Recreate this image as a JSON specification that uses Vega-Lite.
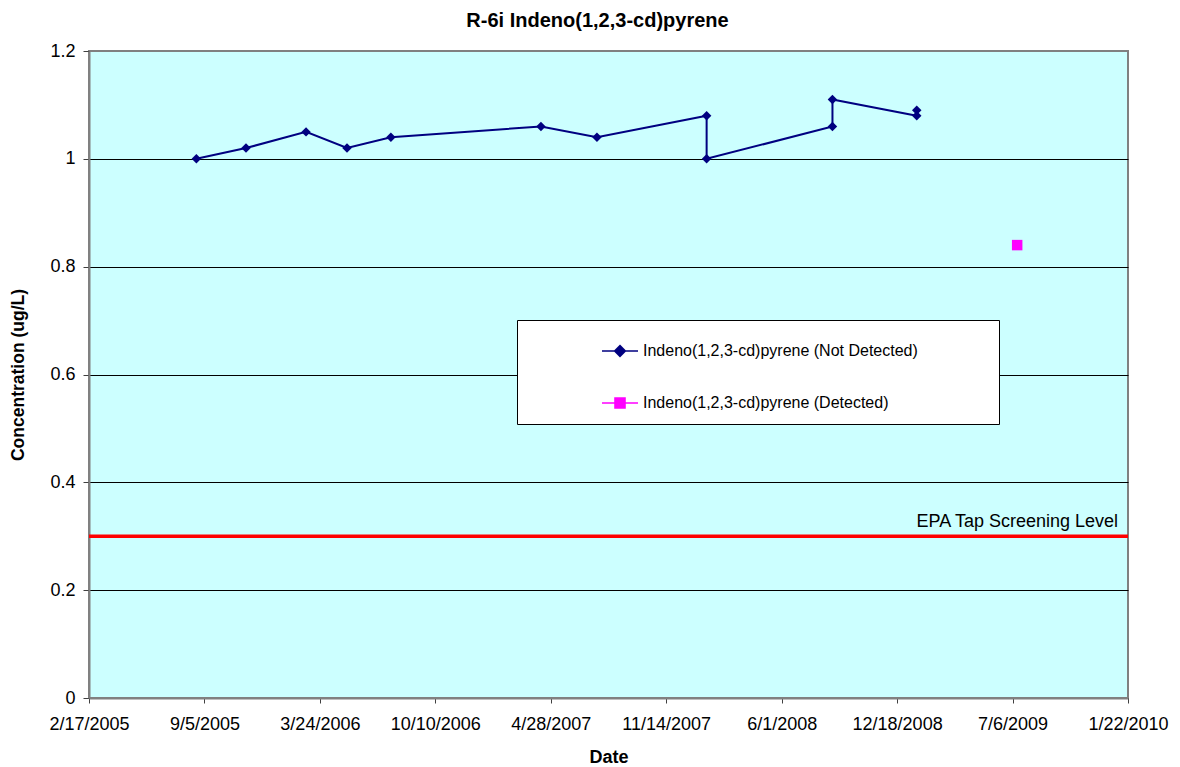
{
  "$schema": "https://vega.github.io/schema/vega-lite/v6.json",
  "width": 1039,
  "height": 647,
  "autosize": {"type": "none"},
  "padding": {"left": 89, "top": 51, "right": 52, "bottom": 69},
  "background": "white",
  "config": {
    "font": "Liberation Sans",
    "view": {"fill": "#CCFFFF", "stroke": "#808080", "strokeWidth": 2},
    "axis": {
      "labelColor": "black",
      "labelFont": "Liberation Sans",
      "labelFontSize": 18,
      "titleColor": "black",
      "titleFont": "Liberation Sans",
      "titleFontWeight": "bold",
      "domainColor": "#808080",
      "domainWidth": 2,
      "tickColor": "#404040",
      "tickWidth": 1
    }
  },
  "title": {
    "text": "R-6i Indeno(1,2,3-cd)pyrene",
    "font": "Liberation Sans",
    "fontSize": 20,
    "fontWeight": "bold",
    "color": "black",
    "anchor": "middle",
    "dx": -11,
    "offset": 11
  },
  "datasets": {
    "samples": [
      {"seq": 1, "date": "2005-08-22", "conc": 1.00, "series": "Indeno(1,2,3-cd)pyrene (Not Detected)"},
      {"seq": 2, "date": "2005-11-16", "conc": 1.02, "series": "Indeno(1,2,3-cd)pyrene (Not Detected)"},
      {"seq": 3, "date": "2006-02-28", "conc": 1.05, "series": "Indeno(1,2,3-cd)pyrene (Not Detected)"},
      {"seq": 4, "date": "2006-05-10", "conc": 1.02, "series": "Indeno(1,2,3-cd)pyrene (Not Detected)"},
      {"seq": 5, "date": "2006-07-25", "conc": 1.04, "series": "Indeno(1,2,3-cd)pyrene (Not Detected)"},
      {"seq": 6, "date": "2007-04-11", "conc": 1.06, "series": "Indeno(1,2,3-cd)pyrene (Not Detected)"},
      {"seq": 7, "date": "2007-07-17", "conc": 1.04, "series": "Indeno(1,2,3-cd)pyrene (Not Detected)"},
      {"seq": 8, "date": "2008-01-23", "conc": 1.08, "series": "Indeno(1,2,3-cd)pyrene (Not Detected)"},
      {"seq": 9, "date": "2008-01-23", "conc": 1.00, "series": "Indeno(1,2,3-cd)pyrene (Not Detected)"},
      {"seq": 10, "date": "2008-08-28", "conc": 1.06, "series": "Indeno(1,2,3-cd)pyrene (Not Detected)"},
      {"seq": 11, "date": "2008-08-28", "conc": 1.11, "series": "Indeno(1,2,3-cd)pyrene (Not Detected)"},
      {"seq": 12, "date": "2009-01-21", "conc": 1.08, "series": "Indeno(1,2,3-cd)pyrene (Not Detected)"},
      {"seq": 13, "date": "2009-01-21", "conc": 1.09, "series": "Indeno(1,2,3-cd)pyrene (Not Detected)"},
      {"seq": 14, "date": "2009-07-14", "conc": 0.84, "series": "Indeno(1,2,3-cd)pyrene (Detected)"}
    ],
    "screening": [
      {"level": 0.3, "label": "EPA Tap Screening Level"}
    ]
  },
  "encoding": {
    "x": {
      "field": "date",
      "type": "temporal",
      "scale": {
        "type": "utc",
        "domain": [
          {"year": 2005, "month": 2, "date": 17, "utc": true},
          {"year": 2010, "month": 1, "date": 22, "utc": true}
        ],
        "nice": false
      },
      "axis": {
        "title": "Date",
        "titleFontSize": 18,
        "labelExpr": "utcFormat(datum.value, '%-m/%-d/%Y')",
        "values": [
          {"year": 2005, "month": 2, "date": 17, "utc": true},
          {"year": 2005, "month": 9, "date": 5, "utc": true},
          {"year": 2006, "month": 3, "date": 24, "utc": true},
          {"year": 2006, "month": 10, "date": 10, "utc": true},
          {"year": 2007, "month": 4, "date": 28, "utc": true},
          {"year": 2007, "month": 11, "date": 14, "utc": true},
          {"year": 2008, "month": 6, "date": 1, "utc": true},
          {"year": 2008, "month": 12, "date": 18, "utc": true},
          {"year": 2009, "month": 7, "date": 6, "utc": true},
          {"year": 2010, "month": 1, "date": 22, "utc": true}
        ],
        "grid": false,
        "tickSize": 5,
        "labelPadding": 12,
        "labelOverlap": false,
        "labelFlush": false,
        "titlePadding": 15
      }
    },
    "y": {
      "field": "conc",
      "type": "quantitative",
      "scale": {"domain": [0, 1.2], "nice": false},
      "axis": {
        "title": "Concentration (ug/L)",
        "titleFontSize": 17.5,
        "values": [0, 0.2, 0.4, 0.6, 0.8, 1.0, 1.2],
        "format": "~g",
        "grid": true,
        "gridColor": {"condition": {"test": "datum.value >= 1.19", "value": "#808080"}, "value": "#000000"},
        "gridWidth": 1,
        "tickSize": 6,
        "labelPadding": 8,
        "titlePadding": 22
      }
    }
  },
  "layer": [
    {
      "data": {"name": "screening"},
      "mark": {"type": "rule", "color": "#FF0000", "strokeWidth": 3.5},
      "encoding": {
        "x": null,
        "y": {"field": "level", "type": "quantitative"}
      }
    },
    {
      "data": {"name": "screening"},
      "mark": {"type": "text", "align": "right", "baseline": "alphabetic", "dx": -10, "dy": -9, "font": "Liberation Sans", "fontSize": 18, "color": "black"},
      "encoding": {
        "x": {"value": "width"},
        "y": {"field": "level", "type": "quantitative"},
        "text": {"field": "label"}
      }
    },
    {
      "data": {"name": "samples"},
      "transform": [{"filter": "datum.series === 'Indeno(1,2,3-cd)pyrene (Not Detected)'"}],
      "mark": {"type": "line", "strokeWidth": 2, "color": "#000080"},
      "encoding": {
        "order": {"field": "seq", "type": "quantitative"}
      }
    },
    {
      "data": {"name": "samples"},
      "mark": {"type": "point", "filled": true, "opacity": 1},
      "encoding": {
        "color": {
          "condition": {"test": "datum.series === 'Indeno(1,2,3-cd)pyrene (Detected)'", "value": "#FF00FF"},
          "value": "#000080"
        },
        "shape": {
          "condition": {"test": "datum.series === 'Indeno(1,2,3-cd)pyrene (Detected)'", "value": "square"},
          "value": "diamond"
        },
        "size": {
          "condition": {"test": "datum.series === 'Indeno(1,2,3-cd)pyrene (Detected)'", "value": 110},
          "value": 90
        }
      }
    },
    {
      "data": {"name": "samples"},
      "mark": {"type": "point", "filled": true, "opacity": 0},
      "encoding": {
        "fill": {
          "field": "series",
          "type": "nominal",
          "scale": {
            "domain": ["Indeno(1,2,3-cd)pyrene (Not Detected)", "Indeno(1,2,3-cd)pyrene (Detected)"],
            "range": ["#000080", "#FF00FF"]
          },
          "legend": {
            "title": " ",
            "titleOrient": "right",
            "titlePadding": 69,
            "orient": "none",
            "legendX": 428,
            "legendY": 269,
            "fillColor": "white",
            "strokeColor": "black",
            "padding": 12,
            "symbolOffset": 72,
            "symbolSize": 1296,
            "symbolStrokeWidth": 1.5,
            "symbolOpacity": 1,
            "rowPadding": 24,
            "labelFont": "Liberation Sans",
            "labelFontSize": 16,
            "labelColor": "black",
            "labelOffset": 4,
            "labelLimit": 400
          }
        },
        "stroke": {
          "field": "series",
          "type": "nominal",
          "scale": {
            "domain": ["Indeno(1,2,3-cd)pyrene (Not Detected)", "Indeno(1,2,3-cd)pyrene (Detected)"],
            "range": ["#000080", "#FF00FF"]
          }
        },
        "shape": {
          "field": "series",
          "type": "nominal",
          "scale": {
            "domain": ["Indeno(1,2,3-cd)pyrene (Not Detected)", "Indeno(1,2,3-cd)pyrene (Detected)"],
            "range": [
              "M-1,0H1M0,-0.3L0.3,0L0,0.3L-0.3,0ZM0,-0.2L0.2,0L0,0.2L-0.2,0ZM0,-0.1L0.1,0L0,0.1L-0.1,0Z",
              "M-1,0H1M-0.28,-0.28H0.28V0.28H-0.28ZM-0.2,-0.2H0.2V0.2H-0.2ZM-0.12,-0.12H0.12V0.12H-0.12ZM-0.04,-0.04H0.04V0.04H-0.04Z"
            ]
          }
        }
      }
    }
  ]
}
